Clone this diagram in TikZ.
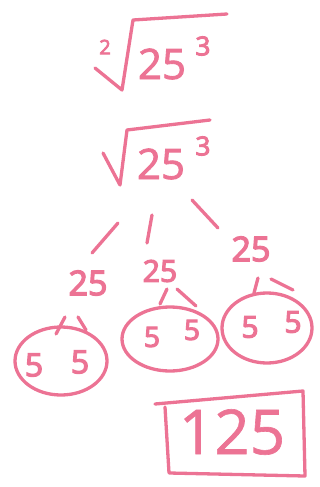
\documentclass[tikz,border=0pt]{standalone}
\usepackage{fontspec}
\setmainfont{Open Sans}
\newfontfamily\penS{Open Sans}[FakeBold=4]
\newfontfamily\penM{Open Sans}[FakeBold=2]
\newfontfamily\penL{Open Sans}[FakeBold=1]
\definecolor{chalk}{RGB}{236,115,148}
\tikzset{
  pen/.style={draw=chalk, line width=3.3pt, line cap=round, line join=round},
  num/.style={text=chalk, inner sep=0pt, anchor=center, font=\penS\fontsize{#1}{#1}\selectfont},
  numM/.style={text=chalk, inner sep=0pt, anchor=center, font=\penM\fontsize{#1}{#1}\selectfont},
  numL/.style={text=chalk, inner sep=0pt, anchor=center, font=\penL\fontsize{#1}{#1}\selectfont},
}
\begin{document}
\begin{tikzpicture}[x=1pt,y=-1pt]
\useasboundingbox (0,0) rectangle (320,487);
% top radical
\node[num=20] (idx) at (105,47) {2};
\node[numM=42] (topbase) at (162,64) {25};
\node[num=26] (topexp) at (203,46) {3};
\coordinate (r1a) at (95,68);
\coordinate (r1b) at (122,90);
\coordinate (r1c) at (133,20);
\coordinate (r1d) at (227,14);
\draw[pen] (r1a) -- (r1b) -- (r1c) -- (r1d);
% second radical
\node[numM=42] (base) at (161,164) {25};
\node[num=26] (exp) at (203,146) {3};
\coordinate (r2a) at (103,153);
\coordinate (r2b) at (120,185);
\coordinate (r2c) at (127,130);
\coordinate (r2d) at (210,120);
\draw[pen] (r2a) -- (r2b) -- (r2c) -- (r2d);
% branches
\coordinate (bl1) at (118,223); \coordinate (bl2) at (92,253);
\coordinate (bm1) at (152,215); \coordinate (bm2) at (147,243);
\coordinate (br1) at (192,200); \coordinate (br2) at (218,228);
\draw[pen] (bl1) -- (bl2);
\draw[pen] (bm1) -- (bm2);
\draw[pen] (br1) -- (br2);
% level 25s
\node[num=34] (L) at (88,283) {25};
\node[num=30] (M) at (160,271) {25};
\node[num=34] (R) at (251,249) {25};
% small ticks
\coordinate (la1) at (65,317); \coordinate (la2) at (56,334);
\coordinate (lb1) at (78,317); \coordinate (lb2) at (86,330);
\draw[pen] (la1) -- (la2); \draw[pen] (lb1) -- (lb2);
\coordinate (ma1) at (167,289); \coordinate (ma2) at (160,304);
\coordinate (mb1) at (177,289); \coordinate (mb2) at (196,306);
\draw[pen] (ma1) -- (ma2); \draw[pen] (mb1) -- (mb2);
\coordinate (ra1) at (258,278); \coordinate (ra2) at (254,293);
\coordinate (rb1) at (271,279); \coordinate (rb2) at (293,290);
\draw[pen] (ra1) -- (ra2); \draw[pen] (rb1) -- (rb2);
% ellipses
\coordinate (le) at (61,361);
\coordinate (me) at (170,339);
\coordinate (re) at (267,328);
\draw[pen] (le) ellipse [x radius=46pt, y radius=34pt];
\draw[pen] (me) ellipse [x radius=48pt, y radius=32pt];
\draw[pen] (re) ellipse [x radius=45pt, y radius=35pt];
\node[num=32] (l5a) at (34,365) {5};
\node[num=32] (l5b) at (80,362) {5};
\node[num=28] (m5a) at (152,337) {5};
\node[num=28] (m5b) at (192,330) {5};
\node[num=30] (r5a) at (250,327) {5};
\node[num=30] (r5b) at (293,322) {5};
% answer box
\node[numL=62] (ans) at (232,432) {125};
\coordinate (x1) at (155,404);
\coordinate (x2) at (303,391);
\coordinate (x3) at (305,476);
\coordinate (x4) at (169,473);
\coordinate (x5) at (165,407);
\draw[pen] (x1) -- (x2) -- (x3) -- (x4) -- (x5);
\end{tikzpicture}
\end{document}
